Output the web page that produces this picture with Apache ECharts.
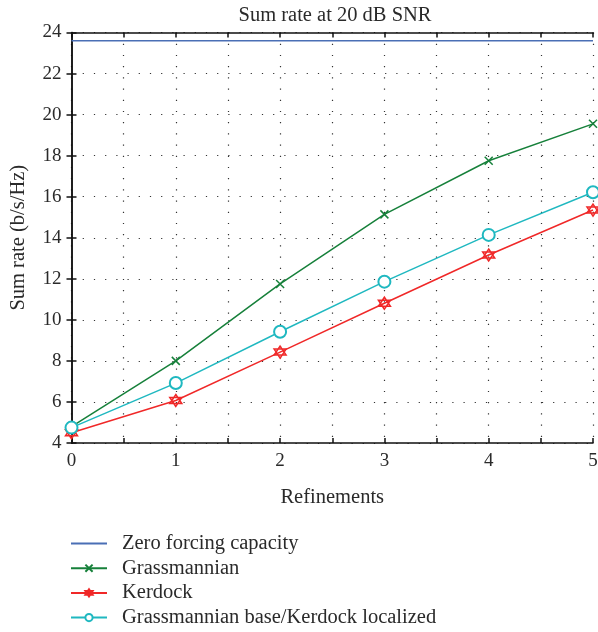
<!DOCTYPE html>
<html><head><meta charset="utf-8">
<script src="https://cdn.jsdelivr.net/npm/echarts@6/dist/echarts.min.js"></script>
<style>html,body{margin:0;padding:0;background:#fff}#c{width:598px;height:632px}</style>
</head><body><div id="c"></div>
<script>
const refinements = [0, 1, 2, 3, 4, 5];
const zeroForcingX = [0, 5];
const zeroForcing = [23.6, 23.6];
const grassmannian = [4.8, 8.0, 11.75, 15.14, 17.75, 19.55];
const kerdock = [4.5, 6.07, 8.43, 10.81, 13.16, 15.35];
const localized = [4.75, 6.92, 9.42, 11.86, 14.14, 16.22];
const names = ['Zero forcing capacity', 'Grassmannian', 'Kerdock', 'Grassmannian base/Kerdock localized'];

const font = 'Liberation Serif';
const txt = '#2a2a2a';
const pair = (xs, ys) => xs.map((x, i) => [x, ys[i]]);
const crossPath = 'path://M0,0L10,10M10,0L0,10';
const hexPath = 'path://M5,0L9.33,7.5L0.67,7.5Z M5,10L0.67,2.5L9.33,2.5Z';

const chart = echarts.init(document.getElementById('c'));
const dotted = {show: true, lineStyle: {color: '#333', type: [1.2, 10], width: 1.2}};
chart.setOption({
  animation: false,
  backgroundColor: '#fff',
  title: {text: 'Sum rate at 20 dB SNR', left: 330, top: 0, textAlign: 'center',
    textStyle: {fontFamily: font, fontSize: 20.5, fontWeight: 'normal', color: txt}},
  grid: {left: 71.5, right: 5, top: 32.5, bottom: 189, outerBoundsMode: 'none', containLabel: false},
  legend: {orient: 'vertical', left: 65, top: 528, height: 110, itemWidth: 36, itemHeight: 9, itemGap: 3.7,
    data: [{name: names[0], itemStyle: {opacity: 0}}, names[1], names[2], names[3]],
    textStyle: {fontFamily: font, fontSize: 20.5, color: txt, padding: [0, 0, 0, 10]}},
  xAxis: [{
    type: 'value', min: 0, max: 5, interval: 0.5,
    name: 'Refinements', nameLocation: 'middle', nameGap: 44,
    nameTextStyle: {fontFamily: font, fontSize: 20.5, color: txt},
    axisLine: {lineStyle: {color: '#111', width: 1.5}},
    axisTick: {inside: true, length: 5, lineStyle: {color: '#111', width: 1.5}},
    axisLabel: {fontFamily: font, fontSize: 19, color: txt, margin: 9,
      formatter: v => (Number.isInteger(v) ? String(v) : '')},
    splitLine: dotted
  }, {
    type: 'value', position: 'top', min: 0, max: 5, interval: 0.5,
    axisLine: {lineStyle: {color: '#111', width: 1.5}},
    axisTick: {inside: true, length: 5, lineStyle: {color: '#111', width: 1.5}},
    axisLabel: {show: false}, splitLine: {show: false}
  }],
  yAxis: [{
    type: 'value', min: 4, max: 24, interval: 2,
    name: 'Sum rate (b/s/Hz)', nameLocation: 'middle', nameGap: 42,
    nameTextStyle: {fontFamily: font, fontSize: 20.5, color: txt},
    axisLine: {show: true, lineStyle: {color: '#111', width: 1.5}},
    axisTick: {show: true, inside: true, length: 5, lineStyle: {color: '#111', width: 1.5}},
    axisLabel: {fontFamily: font, fontSize: 19, color: txt, margin: 10},
    splitLine: dotted
  }, {
    type: 'value', position: 'right', min: 4, max: 24, interval: 2,
    axisLine: {show: true, lineStyle: {color: '#111', width: 1.5}},
    axisTick: {show: true, inside: true, length: 5, lineStyle: {color: '#111', width: 1.5}},
    axisLabel: {show: false}, splitLine: {show: false}
  }],
  series: [
    {name: names[0], type: 'line', data: pair(zeroForcingX, zeroForcing), symbol: 'circle', showSymbol: false,
      lineStyle: {color: '#4a6fb5', width: 1.5}, itemStyle: {color: '#4a6fb5'}},
    {name: names[1], type: 'line', data: pair(refinements, grassmannian), symbol: crossPath, symbolSize: 8,
      clip: false, z: 3,
      lineStyle: {color: '#16803a', width: 1.5},
      itemStyle: {color: 'none', borderColor: '#16803a', borderWidth: 1.5}},
    {name: names[2], type: 'line', data: pair(refinements, kerdock), symbol: hexPath, symbolSize: 12,
      clip: false, z: 4,
      lineStyle: {color: '#f02828', width: 1.5},
      itemStyle: {color: 'none', borderColor: '#f02828', borderWidth: 1.5}},
    {name: names[3], type: 'line', data: pair(refinements, localized), symbol: 'emptyCircle', symbolSize: 12,
      clip: false, z: 5,
      lineStyle: {color: '#1fb8c0', width: 1.5},
      itemStyle: {color: '#1fb8c0', borderColor: '#1fb8c0', borderWidth: 1.5}}
  ]
});
</script></body></html>
